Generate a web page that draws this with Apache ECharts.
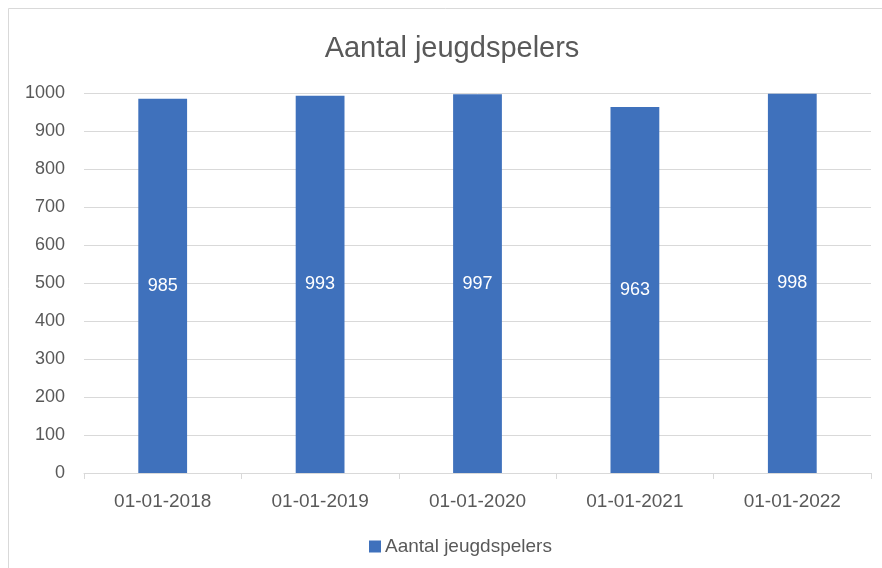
<!DOCTYPE html>
<html>
<head>
<meta charset="utf-8">
<script src="https://cdn.jsdelivr.net/npm/echarts@6/dist/echarts.min.js"></script>
<style>
html, body { margin: 0; padding: 0; background: #fff; }
#chart { width: 882px; height: 568px; }
</style>
</head>
<body>
<div id="chart"></div>
<script>
// data
const categories = ["01-01-2018", "01-01-2019", "01-01-2020", "01-01-2021", "01-01-2022"];
const values = [985, 993, 997, 963, 998];
const seriesName = "Aantal jeugdspelers";

const font = "'Liberation Sans', Arial, sans-serif";
const textColor = "#595959";

const myChart = echarts.init(document.getElementById("chart"));
const option = {
	animation: false,
	backgroundColor: "#fff",
	textStyle: { fontFamily: font },
	graphic: [
		{
			type: "rect",
			shape: { x: 8.5, y: 8.5, width: 900, height: 600 },
			style: { fill: "none", stroke: "#d9d9d9", lineWidth: 1 },
			silent: true
		}
	],
	title: {
		text: "Aantal jeugdspelers",
		left: 447,
		textAlign: "center",
		top: 29,
		textStyle: {
			color: textColor,
			fontSize: 29,
			fontWeight: "normal",
			fontFamily: font
		}
	},
	legend: {
		bottom: 7,
		left: 364,
		itemWidth: 12,
		itemHeight: 12,
		itemGap: 4,
		icon: "rect",
		textStyle: { color: textColor, fontSize: 19, fontFamily: font, padding: [0, 0, 0, -1] }
	},
	grid: {
		left: 84,
		right: 11,
		top: 93,
		bottom: 95
	},
	xAxis: {
		type: "category",
		data: categories,
		axisLine: { lineStyle: { color: "#d9d9d9", width: 1 } },
		axisTick: { show: true, length: 6, lineStyle: { color: "#d9d9d9" } },
		axisLabel: { color: textColor, fontSize: 19, margin: 19, fontFamily: font }
	},
	yAxis: {
		type: "value",
		min: 0,
		max: 1000,
		interval: 100,
		axisLine: { show: false },
		axisTick: { show: false },
		splitLine: { lineStyle: { color: "#d9d9d9", width: 1 } },
		axisLabel: {
			color: textColor,
			fontSize: 18,
			margin: 19,
			fontFamily: font,
			formatter: function (value) {
				return String(value);
			}
		}
	},
	series: [
		{
			name: seriesName,
			type: "bar",
			data: values,
			barWidth: "31%",
			itemStyle: { color: "#3f71bc" },
			label: {
				show: true,
				position: "inside",
				color: "#fff",
				fontSize: 18,
				fontFamily: font
			}
		}
	]
};
myChart.setOption(option);
</script>
</body>
</html>
